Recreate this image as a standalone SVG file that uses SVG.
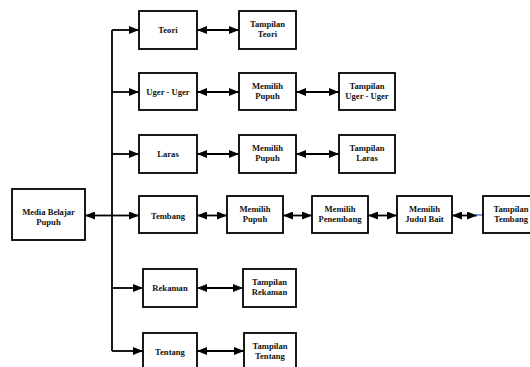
<svg xmlns="http://www.w3.org/2000/svg" width="530" height="367" viewBox="0 0 530 367">
<style>
.b{fill:#fff;stroke:#000;stroke-width:1.8}
.t{font-family:"Liberation Serif","Times New Roman",serif;font-weight:bold;font-size:8.6px;fill:#111;text-anchor:middle}
.c{fill:none;stroke:#000;stroke-width:1.8}
</style>
<defs>
<marker id="ah" viewBox="0 0 10 8" refX="10" refY="4" markerWidth="10" markerHeight="8" orient="auto-start-reverse" markerUnits="userSpaceOnUse"><path d="M0,0 L10,4 L0,8 z" fill="#000"/></marker>
</defs>
<rect width="530" height="367" fill="#fff"/>
<g id="connectors">
<path class="c" d="M112,30 V351"/>
<path class="c" d="M112,30 H139" marker-end="url(#ah)"/>
<path class="c" d="M112,92 H139" marker-end="url(#ah)"/>
<path class="c" d="M112,154 H139" marker-end="url(#ah)"/>
<path class="c" d="M112,215.5 H139" marker-end="url(#ah)"/>
<path class="c" d="M112,215.5 H85" marker-end="url(#ah)"/>
<path class="c" d="M112,288 H143" marker-end="url(#ah)"/>
<path class="c" d="M112,351 H143" marker-end="url(#ah)"/>
<path class="c" d="M197,30 H239" marker-start="url(#ah)" marker-end="url(#ah)"/>
<path class="c" d="M197,92 H239" marker-start="url(#ah)" marker-end="url(#ah)"/>
<path class="c" d="M296,92 H339" marker-start="url(#ah)" marker-end="url(#ah)"/>
<path class="c" d="M197,154 H239" marker-start="url(#ah)" marker-end="url(#ah)"/>
<path class="c" d="M296,154 H339" marker-start="url(#ah)" marker-end="url(#ah)"/>
<path class="c" d="M197,215.5 H227" marker-start="url(#ah)" marker-end="url(#ah)"/>
<path class="c" d="M283,215.5 H312" marker-start="url(#ah)" marker-end="url(#ah)"/>
<path class="c" d="M368,215.5 H397" marker-start="url(#ah)" marker-end="url(#ah)"/>
<path class="c" d="M452,215.5 H477" marker-start="url(#ah)" marker-end="url(#ah)"/>
<path d="M476,215 H483" stroke="#4a7cc0" stroke-width="1.4" fill="none"/>
<path class="c" d="M197,288 H243" marker-start="url(#ah)" marker-end="url(#ah)"/>
<path class="c" d="M197,351 H244" marker-start="url(#ah)" marker-end="url(#ah)"/>
</g>
<g id="media"><rect class="b" x="12" y="189" width="73" height="51"/><text class="t" x="48.5" y="215">Media Belajar</text><text class="t" x="48.5" y="224.5">Pupuh</text></g>
<g id="teori"><rect class="b" x="139" y="11" width="58" height="38"/><text class="t" x="168" y="33">Teori</text></g>
<g id="tampilan-teori"><rect class="b" x="239" y="11" width="57" height="38"/><text class="t" x="267.5" y="27">Tampilan</text><text class="t" x="267.5" y="37">Teori</text></g>
<g id="uger"><rect class="b" x="139" y="73" width="58" height="37"/><text class="t" x="168" y="94.5">Uger - Uger</text></g>
<g id="memilih-pupuh-1"><rect class="b" x="239" y="73" width="57" height="37"/><text class="t" x="267.5" y="89">Memilih</text><text class="t" x="267.5" y="99">Pupuh</text></g>
<g id="tampilan-uger"><rect class="b" x="339" y="73" width="56" height="37"/><text class="t" x="367" y="89">Tampilan</text><text class="t" x="367" y="99">Uger - Uger</text></g>
<g id="laras"><rect class="b" x="139" y="135" width="58" height="38"/><text class="t" x="168" y="157">Laras</text></g>
<g id="memilih-pupuh-2"><rect class="b" x="239" y="135" width="57" height="38"/><text class="t" x="267.5" y="151">Memilih</text><text class="t" x="267.5" y="161">Pupuh</text></g>
<g id="tampilan-laras"><rect class="b" x="339" y="135" width="56" height="38"/><text class="t" x="367" y="151">Tampilan</text><text class="t" x="367" y="161">Laras</text></g>
<g id="tembang"><rect class="b" x="139" y="196" width="58" height="37"/><text class="t" x="168" y="218.5">Tembang</text></g>
<g id="memilih-pupuh-3"><rect class="b" x="227" y="196" width="56" height="37"/><text class="t" x="255" y="212">Memilih</text><text class="t" x="255" y="222">Pupuh</text></g>
<g id="memilih-penembang"><rect class="b" x="312" y="196" width="56" height="37"/><text class="t" x="340" y="212">Memilih</text><text class="t" x="340" y="222">Penembang</text></g>
<g id="memilih-judul"><rect class="b" x="397" y="196" width="55" height="37"/><text class="t" x="424.5" y="212">Memilih</text><text class="t" x="424.5" y="222">Judul Bait</text></g>
<g id="tampilan-tembang"><rect class="b" x="483" y="196" width="60" height="37"/><text class="t" x="511" y="212">Tampilan</text><text class="t" x="511" y="222">Tembang</text></g>
<g id="rekaman"><rect class="b" x="143" y="269" width="54" height="38"/><text class="t" x="170" y="291">Rekaman</text></g>
<g id="tampilan-rekaman"><rect class="b" x="243" y="269" width="53" height="38"/><text class="t" x="269.5" y="285">Tampilan</text><text class="t" x="269.5" y="295">Rekaman</text></g>
<g id="tentang"><rect class="b" x="143" y="333" width="54" height="38"/><text class="t" x="170" y="355">Tentang</text></g>
<g id="tampilan-tentang"><rect class="b" x="244" y="333" width="52" height="38"/><text class="t" x="270" y="349">Tampilan</text><text class="t" x="270" y="359">Tentang</text></g>
</svg>
